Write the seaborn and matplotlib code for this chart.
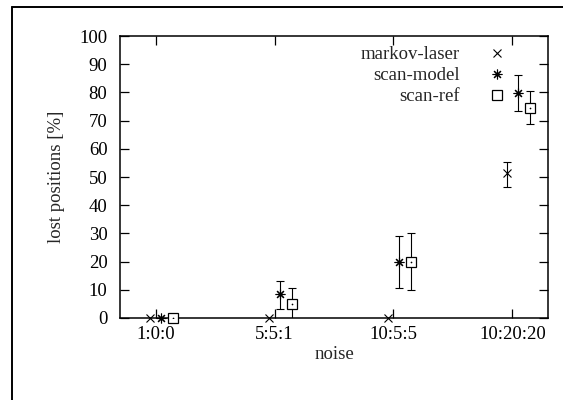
import matplotlib
matplotlib.use("Agg")
import matplotlib.pyplot as plt
from matplotlib.lines import Line2D
import numpy as np
import pandas as pd
import seaborn as sns

# Data
categories = ["1:0:0", "5:5:1", "10:5:5", "10:20:20"]
series = ["markov-laser", "scan-model", "scan-ref"]

markov_laser = [0, 0, 0, 51.3]
markov_laser_lo = [0, 0, 0, 46.5]
markov_laser_hi = [0, 0, 0, 55.3]

scan_model = [0, 8.4, 20.0, 79.8]
scan_model_lo = [0, 3.2, 10.8, 73.5]
scan_model_hi = [0, 13.1, 29.2, 86.2]

scan_ref = [0, 5.0, 20.0, 74.6]
scan_ref_lo = [0, -1.0, 9.8, 68.8]
scan_ref_hi = [0, 10.8, 30.0, 80.5]

values = {
    "markov-laser": (markov_laser, markov_laser_lo, markov_laser_hi),
    "scan-model": (scan_model, scan_model_lo, scan_model_hi),
    "scan-ref": (scan_ref, scan_ref_lo, scan_ref_hi),
}

# Style: dodge offset and marker per series
dodge = {"markov-laser": -0.045, "scan-model": 0.045, "scan-ref": 0.145}
markers = {"markov-laser": "x", "scan-model": (8, 2, 0), "scan-ref": "s"}
msizes = {"markov-laser": 6, "scan-model": 7, "scan-ref": 7}

sns.set_style("ticks")
plt.rcParams["font.family"] = ["Liberation Serif", "DejaVu Serif"]
plt.rcParams["font.size"] = 13.5

fig = plt.figure(figsize=(5.63, 4.0), dpi=100)
ax = fig.add_axes([120 / 563, 82 / 400, 428 / 563, 282 / 400])

rows = []
for s in series:
    y, lo, hi = values[s]
    for i, c in enumerate(categories):
        rows.append({"series": s, "pos": i + dodge[s], "value": y[i],
                     "lo": lo[i], "hi": hi[i]})
df = pd.DataFrame(rows)

handles = []
for s in series:
    d = df[df["series"] == s]
    has_err = (d["hi"] - d["lo"]) > 0
    de = d[has_err]
    if len(de):
        ax.errorbar(de["pos"], de["value"],
                    yerr=[de["value"] - de["lo"], de["hi"] - de["value"]],
                    fmt="none", ecolor="black", elinewidth=0.8,
                    capsize=3, capthick=0.8, zorder=2)
    if s == "scan-ref":
        h, = ax.plot(d["pos"], d["value"], linestyle="none", marker="s",
                     markersize=msizes[s], markerfacecolor="white",
                     markeredgecolor="black", markeredgewidth=0.9,
                     zorder=3, clip_on=False)
        sns.scatterplot(x=d["pos"], y=d["value"], ax=ax, color="black",
                        s=1.5, marker="o", linewidth=0, zorder=4,
                        legend=False)
    else:
        h, = ax.plot(d["pos"], d["value"], linestyle="none",
                     marker=markers[s], markersize=msizes[s],
                     color="black", markeredgewidth=0.8, zorder=3,
                     clip_on=False)
    handles.append(h)

ax.set_xlim(-0.3, 3.3)
ax.set_ylim(0, 100)
ax.set_xticks(range(len(categories)))
ax.set_xticklabels(categories)
ax.set_yticks(np.arange(0, 101, 10))
ax.set_xlabel("noise", labelpad=2)
ax.set_ylabel("lost positions [%]", labelpad=10)

for sp in ax.spines.values():
    sp.set_visible(True)
    sp.set_linewidth(1.1)
    sp.set_color("black")
ax.tick_params(direction="in", length=6.5, width=0.9, colors="black",
               top=True, right=True, labelsize=13.5)
ax.tick_params(axis="y", pad=9)
ax.tick_params(axis="x", pad=6)
ax.grid(False)

leg = ax.legend(handles, series, loc="upper right", markerfirst=False,
                frameon=False, fontsize=13.5, handlelength=1.2,
                handletextpad=1.4, labelspacing=0.2,
                bbox_to_anchor=(0.925, 0.99), borderaxespad=0)

# outer frame (only top and left edges visible in the reference)
fig.add_artist(Line2D([12 / 563, 1.0], [1 - 7 / 400, 1 - 7 / 400],
                      transform=fig.transFigure, color="black", lw=1.4))
fig.add_artist(Line2D([12 / 563, 12 / 563], [0, 1 - 7 / 400],
                      transform=fig.transFigure, color="black", lw=1.4))

fig.savefig("out.png", dpi=100)
